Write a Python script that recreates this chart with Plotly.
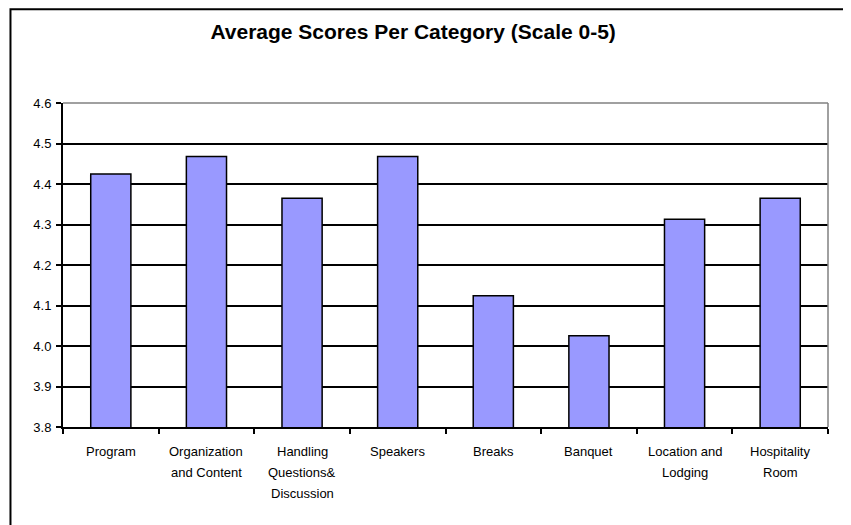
import plotly.graph_objects as go

categories = ["Program", "Organization<br>and Content", "Handling<br>Questions&<br>Discussion",
              "Speakers", "Breaks", "Banquet", "Location and<br>Lodging", "Hospitality<br>Room"]
scores = [4.425, 4.468, 4.365, 4.468, 4.124, 4.025, 4.313, 4.365]
y_ticks = [3.8, 3.9, 4.0, 4.1, 4.2, 4.3, 4.4, 4.5, 4.6]

FONT = "Liberation Sans, Arial, sans-serif"
OFF = 8  # page offset of the figure inside the window

PLOT_L, PLOT_R, PLOT_T, PLOT_B = 63, 827.7, 102.7, 426.7
pw = PLOT_R - PLOT_L
ph = PLOT_B - PLOT_T

fig = go.Figure(go.Bar(
    x=categories, y=scores,
    marker=dict(color="#9999FF", line=dict(color="black", width=1.5)),
))

fig.update_layout(
    width=851, height=525,
    margin=dict(l=PLOT_L - OFF, r=851 + OFF - PLOT_R, t=PLOT_T - OFF, b=525 + OFF - PLOT_B, pad=0),
    paper_bgcolor="white", plot_bgcolor="white",
    bargap=0.58,
    showlegend=False,
    font=dict(family=FONT, color="black", size=13),
    title=dict(text="<b>Average Scores Per Category (Scale 0-5)</b>",
               font=dict(family=FONT, size=21, color="black"),
               xref="paper", x=0.4577, xanchor="center",
               yref="container", y=1 - (32 - OFF) / 525, yanchor="middle"),
)

fig.update_xaxes(
    type="category", showline=True, linecolor="black", linewidth=2,
    ticks="outside", tickson="boundaries", ticklen=5, tickwidth=1.5, tickcolor="black",
    showticklabels=False,
    showgrid=False, zeroline=False,
)
fig.update_yaxes(
    range=[3.8, 4.6], tickvals=y_ticks, tickformat=".1f",
    showline=True, linecolor="black", linewidth=2,
    ticks="outside", ticklen=5, tickwidth=1.5, tickcolor="black",
    tickfont=dict(family=FONT, size=13, color="black"),
    ticklabelstandoff=2,
    showgrid=True, gridcolor="black", gridwidth=1.5, zeroline=False,
)

# category labels, one text line each, with the reference's wider line spacing
for cat in categories:
    for i, line in enumerate(cat.split("<br>")):
        ypx = 451.7 + 20.8 * i
        fig.add_annotation(x=cat, xref="x", y=(PLOT_B - ypx) / ph, yref="paper",
                           text=line, showarrow=False, xanchor="center", yanchor="middle",
                           font=dict(family=FONT, size=13, color="black"))

# grey top and right plot-area border
fig.add_shape(type="line", xref="paper", yref="paper", x0=0, x1=1, y0=1, y1=1,
              line=dict(color="#808080", width=1.5), layer="above")
fig.add_shape(type="line", xref="paper", yref="paper", x0=1, x1=1, y0=0, y1=1,
              line=dict(color="#808080", width=1.5), layer="above")

# outer chart border (window coordinates converted to plot-area paper units)
fig.add_shape(type="rect", xref="paper", yref="paper",
              x0=(10.5 - PLOT_L) / pw, x1=(846 - PLOT_L) / pw,
              y0=(PLOT_B - 545) / ph, y1=(PLOT_B - 9) / ph,
              line=dict(color="black", width=2), fillcolor="rgba(0,0,0,0)", layer="above")

fig.write_html("out.html")
